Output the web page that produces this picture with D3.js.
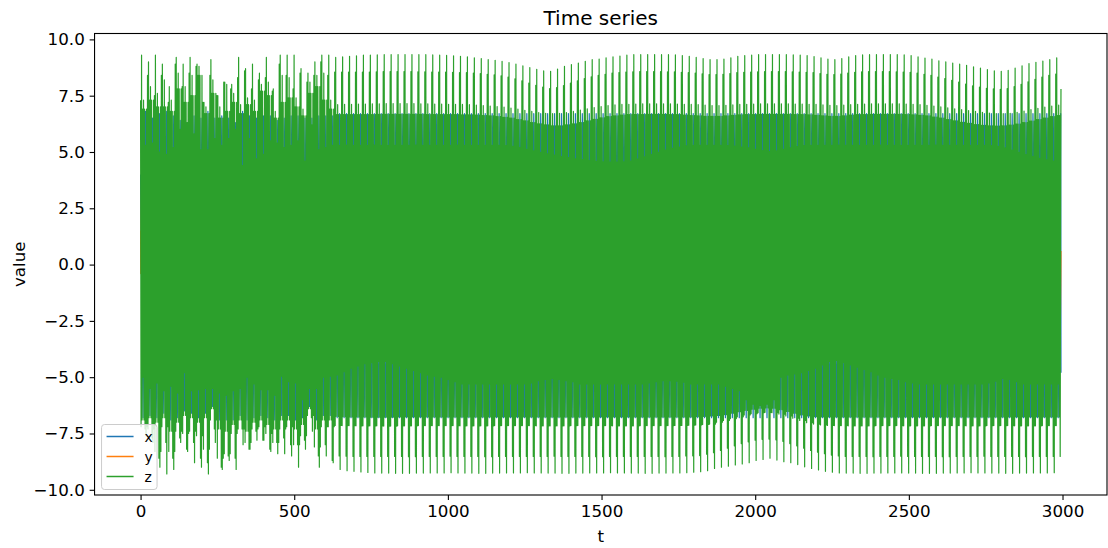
<!DOCTYPE html>
<html>
<head>
<meta charset="utf-8">
<script src="https://cdn.jsdelivr.net/npm/d3@7"></script>
<style>
  body { margin: 0; background: #fff; }
  text { font-family: "DejaVu Sans", sans-serif; }
</style>
</head>
<body>
<svg id="chart" width="1108" height="548"></svg>
<script>
// ---------------------------------------------------------------------------
// Data: three-variable oscillator, t in [0, 2995].
// The trace is stored per oscillation cycle: for every cycle the levels the
// fast oscillation reaches (tall spike, second spike, shoulder, body edge and
// the short notch) above and below zero. Cycles 0-27 are the irregular start,
// cycles 28-132 the regular regime.
// ---------------------------------------------------------------------------
const T_START = 0;
const T_END = 2995;
const CYCLE_T = 22.56;          // duration of one cycle
const seriesNames = ["x", "y", "z"];
const seriesColors = ["#1f77b4", "#ff7f0e", "#2ca02c"];
const xTicks = [0, 500, 1000, 1500, 2000, 2500, 3000];
const yTicks = [-10, -7.5, -5, -2.5, 0, 2.5, 5, 7.5, 10];

// z: upper levels per cycle
const zHiPeak = [
  9.3, 9.0, 9.3, 8.9, 7.9, 9.2, 8.9,
  9.2, 8.9, 7.2, 9.1, 7.5, 8.1, 8.0,
  9.2, 8.7, 8.9, 8.5, 9.2, 7.8, 9.3,
  9.3, 9.3, 8.7, 8.5, 9.0, 9.3, 9.3,
  9.20, 9.22, 9.25, 9.27, 9.30,
  9.30, 9.31, 9.32, 9.32, 9.33,
  9.33, 9.33, 9.32, 9.32, 9.31,
  9.30, 9.29, 9.27, 9.25, 9.22,
  9.18, 9.15, 9.10, 9.07, 9.02,
  8.97, 8.90, 8.82, 8.75, 8.67,
  8.60, 8.58, 8.68, 8.80, 8.88,
  8.95, 9.03, 9.10, 9.13, 9.18,
  9.22, 9.26, 9.30, 9.32, 9.32,
  9.33, 9.33, 9.32, 9.32, 9.31,
  9.28, 9.25, 9.20, 9.15, 9.10,
  9.10, 9.12, 9.18, 9.25, 9.28,
  9.30, 9.32, 9.33, 9.33, 9.33,
  9.32, 9.31, 9.30, 9.28, 9.24,
  9.18, 9.12, 9.10, 9.15, 9.22,
  9.28, 9.31, 9.32, 9.33, 9.33,
  9.33, 9.32, 9.31, 9.28, 9.22,
  9.17, 9.12, 9.05, 9.00, 8.95,
  8.90, 8.85, 8.78, 8.72, 8.66,
  8.60, 8.58, 8.62, 8.72, 8.83,
  8.93, 8.98, 9.04, 9.10, 9.18
];
const zHiSecond = [
  7.3, 8.4, 7.5, 8.4, 7.2, 8.9, 7.9,
  8.5, 8.8, 7.2, 8.4, 7.5, 8.1, 7.8,
  8.3, 8.6, 7.8, 8.2, 8.3, 7.7, 8.9,
  8.4, 7.8, 8.5, 8.1, 8.4, 9.0, 8.4,
  8.55, 8.55, 8.55, 8.55, 8.55,
  8.55, 8.56, 8.57, 8.57, 8.57,
  8.57, 8.57, 8.56, 8.56, 8.55,
  8.55, 8.55, 8.54, 8.53, 8.52,
  8.50, 8.48, 8.45, 8.42, 8.38,
  8.32, 8.25, 8.16, 8.06, 7.96,
  7.88, 7.82, 7.86, 7.95, 8.06,
  8.16, 8.26, 8.34, 8.40, 8.45,
  8.50, 8.53, 8.55, 8.56, 8.57,
  8.57, 8.57, 8.57, 8.56, 8.56,
  8.54, 8.52, 8.50, 8.47, 8.44,
  8.44, 8.45, 8.48, 8.52, 8.54,
  8.55, 8.56, 8.57, 8.57, 8.57,
  8.57, 8.56, 8.55, 8.54, 8.52,
  8.48, 8.45, 8.44, 8.46, 8.50,
  8.54, 8.56, 8.57, 8.57, 8.57,
  8.57, 8.56, 8.55, 8.54, 8.50,
  8.45, 8.40, 8.33, 8.26, 8.18,
  8.10, 8.02, 7.94, 7.88, 7.83,
  7.80, 7.78, 7.82, 7.90, 8.00,
  8.12, 8.22, 8.32, 8.40, 8.46
];
const zHiShoulder = [
  7.3, 7.9, 7.6, 8.2, 7.3, 8.5, 7.9,
  8.4, 8.8, 7.0, 8.2, 7.0, 8.0, 7.6,
  7.1, 7.4, 7.3, 8.0, 8.1, 6.8, 8.4,
  8.3, 7.4, 6.9, 8.1, 8.4, 8.5, 7.3,
  7.10, 7.12, 7.12, 7.13, 7.13,
  7.14, 7.14, 7.15, 7.15, 7.15,
  7.15, 7.15, 7.14, 7.14, 7.13,
  7.13, 7.12, 7.12, 7.11, 7.10,
  7.08, 7.06, 7.04, 7.02, 6.99,
  6.95, 6.90, 6.85, 6.80, 6.75,
  6.72, 6.70, 6.72, 6.75, 6.80,
  6.86, 6.92, 6.97, 7.02, 7.06,
  7.09, 7.11, 7.12, 7.13, 7.14,
  7.14, 7.14, 7.14, 7.14, 7.13,
  7.12, 7.11, 7.10, 7.08, 7.06,
  7.06, 7.07, 7.09, 7.11, 7.12,
  7.13, 7.14, 7.14, 7.14, 7.14,
  7.14, 7.13, 7.13, 7.12, 7.11,
  7.09, 7.07, 7.06, 7.08, 7.10,
  7.12, 7.13, 7.14, 7.14, 7.14,
  7.14, 7.14, 7.13, 7.12, 7.10,
  7.07, 7.04, 7.00, 6.96, 6.92,
  6.88, 6.84, 6.80, 6.76, 6.73,
  6.71, 6.70, 6.72, 6.76, 6.82,
  6.88, 6.94, 6.99, 7.04, 7.08
];
const zHiBody = [
  6.9, 7.3, 7.0, 7.0, 6.8, 7.8, 7.2,
  7.5, 8.4, 6.7, 7.6, 6.5, 6.8, 7.2,
  6.7, 7.1, 6.8, 7.7, 7.5, 6.5, 7.2,
  7.4, 7.0, 6.6, 7.6, 7.9, 7.3, 6.9,
  6.66, 6.66, 6.66, 6.66, 6.66,
  6.66, 6.67, 6.67, 6.67, 6.67,
  6.67, 6.67, 6.67, 6.66, 6.66,
  6.66, 6.66, 6.66, 6.65, 6.65,
  6.64, 6.62, 6.60, 6.57, 6.54,
  6.50, 6.44, 6.38, 6.31, 6.25,
  6.20, 6.16, 6.16, 6.20, 6.25,
  6.31, 6.38, 6.45, 6.52, 6.57,
  6.61, 6.64, 6.66, 6.66, 6.66,
  6.67, 6.67, 6.67, 6.66, 6.66,
  6.64, 6.62, 6.60, 6.58, 6.58,
  6.58, 6.60, 6.63, 6.65, 6.66,
  6.66, 6.67, 6.67, 6.67, 6.67,
  6.67, 6.66, 6.66, 6.65, 6.63,
  6.60, 6.58, 6.58, 6.61, 6.64,
  6.66, 6.66, 6.67, 6.67, 6.67,
  6.67, 6.67, 6.66, 6.65, 6.63,
  6.60, 6.55, 6.50, 6.44, 6.38,
  6.32, 6.27, 6.22, 6.18, 6.16,
  6.15, 6.16, 6.19, 6.24, 6.30,
  6.37, 6.44, 6.51, 6.57, 6.62
];
const zHiNotch = [
  5.3, 5.4, 5.0, 4.9, 5.2, 6.0, 6.3,
  5.8, 5.1, 5.1, 5.6, 5.3, 5.6, 6.0,
  4.4, 5.6, 4.7, 4.9, 5.5, 5.4, 5.2,
  5.3, 5.5, 4.6, 6.2, 5.1, 5.2, 5.3,
  5.30, 5.31, 5.30, 5.29, 5.30,
  5.31, 5.30, 5.30, 5.29, 5.30,
  5.30, 5.31, 5.30, 5.30, 5.29,
  5.30, 5.30, 5.31, 5.30, 5.30,
  5.30, 5.29, 5.30, 5.30, 5.28,
  5.25, 5.20, 5.12, 5.05, 4.98,
  4.92, 4.86, 4.80, 4.75, 4.70,
  4.66, 4.62, 4.58, 4.56, 4.55,
  4.55, 4.56, 4.60, 4.68, 4.78,
  4.88, 4.98, 5.08, 5.16, 5.22,
  5.27, 5.30, 5.30, 5.30, 5.30,
  5.30, 5.28, 5.26, 5.22, 5.18,
  5.12, 5.06, 5.02, 5.05, 5.12,
  5.18, 5.24, 5.28, 5.30, 5.30,
  5.30, 5.30, 5.31, 5.30, 5.30,
  5.29, 5.30, 5.30, 5.31, 5.30,
  5.30, 5.30, 5.29, 5.30, 5.30,
  5.30, 5.31, 5.30, 5.30, 5.30,
  5.29, 5.30, 5.30, 5.30, 5.28,
  5.25, 5.18, 5.08, 4.98, 4.88,
  4.80, 4.72, 4.65, 4.60, 4.56
];

// z: lower levels per cycle
const zLoPeak = [
  -7.6, -7.9, -9.0, -9.3, -9.1, -7.9, -8.3,
  -8.8, -9.0, -9.3, -7.9, -9.1, -8.7, -9.1,
  -8.0, -8.2, -7.8, -7.8, -8.3, -8.4, -8.4,
  -8.5, -9.0, -8.2, -7.4, -9.0, -8.5, -8.8,
  -9.10, -9.15, -9.18, -9.21, -9.23,
  -9.25, -9.26, -9.26, -9.27, -9.27,
  -9.27, -9.26, -9.26, -9.25, -9.25,
  -9.25, -9.24, -9.25, -9.26, -9.26,
  -9.27, -9.27, -9.26, -9.26, -9.25,
  -9.25, -9.25, -9.24, -9.25, -9.25,
  -9.26, -9.26, -9.27, -9.27, -9.26,
  -9.26, -9.25, -9.25, -9.25, -9.24,
  -9.25, -9.25, -9.26, -9.26, -9.27,
  -9.27, -9.26, -9.26, -9.25, -9.25,
  -9.24, -9.22, -9.20, -9.15, -9.05,
  -9.00, -8.95, -8.90, -8.85, -8.80,
  -8.70, -8.65, -8.60, -8.68, -8.75,
  -8.80, -8.88, -8.98, -9.05, -9.12,
  -9.18, -9.22, -9.25, -9.26, -9.26,
  -9.27, -9.27, -9.26, -9.26, -9.25,
  -9.25, -9.25, -9.26, -9.26, -9.27,
  -9.27, -9.27, -9.26, -9.26, -9.25,
  -9.25, -9.24, -9.25, -9.25, -9.26,
  -9.26, -9.27, -9.27, -9.26, -9.26,
  -9.25, -9.25, -9.25, -9.24, -9.25
];
const zLoSecond = [
  -7.3, -7.7, -8.6, -7.9, -8.6, -7.7, -8.2,
  -7.9, -8.6, -8.8, -7.3, -9.0, -8.5, -8.6,
  -7.3, -8.2, -7.4, -7.8, -8.2, -7.9, -7.7,
  -8.0, -8.0, -7.8, -6.8, -8.5, -8.0, -8.7,
  -8.50, -8.51, -8.52, -8.52, -8.52,
  -8.52, -8.52, -8.52, -8.52, -8.52,
  -8.53, -8.53, -8.52, -8.52, -8.52,
  -8.52, -8.51, -8.52, -8.52, -8.52,
  -8.52, -8.53, -8.53, -8.52, -8.52,
  -8.52, -8.52, -8.52, -8.52, -8.52,
  -8.52, -8.51, -8.52, -8.52, -8.52,
  -8.52, -8.52, -8.53, -8.53, -8.52,
  -8.52, -8.52, -8.52, -8.52, -8.52,
  -8.52, -8.52, -8.53, -8.52, -8.52,
  -8.50, -8.49, -8.48, -8.42, -8.35,
  -8.25, -8.15, -8.05, -7.95, -7.87,
  -7.80, -7.76, -7.75, -7.78, -7.85,
  -7.95, -8.05, -8.15, -8.25, -8.33,
  -8.40, -8.46, -8.50, -8.52, -8.52,
  -8.52, -8.52, -8.53, -8.52, -8.52,
  -8.52, -8.51, -8.52, -8.52, -8.52,
  -8.52, -8.52, -8.53, -8.53, -8.52,
  -8.52, -8.52, -8.52, -8.51, -8.52,
  -8.52, -8.52, -8.52, -8.52, -8.53,
  -8.52, -8.52, -8.52, -8.52, -8.52
];
const zLoShoulder = [
  -7.2, -7.3, -8.3, -7.2, -8.3, -7.4, -7.5,
  -7.4, -7.6, -8.2, -6.9, -8.6, -8.4, -7.5,
  -7.3, -7.9, -7.3, -7.2, -7.5, -7.9, -7.3,
  -7.2, -8.0, -7.6, -6.7, -8.1, -7.2, -7.2,
  -7.14, -7.15, -7.15, -7.16, -7.16,
  -7.16, -7.16, -7.17, -7.17, -7.16,
  -7.16, -7.16, -7.15, -7.15, -7.15,
  -7.15, -7.15, -7.15, -7.16, -7.16,
  -7.16, -7.16, -7.16, -7.15, -7.15,
  -7.15, -7.15, -7.15, -7.15, -7.16,
  -7.16, -7.16, -7.16, -7.16, -7.15,
  -7.15, -7.15, -7.15, -7.15, -7.15,
  -7.16, -7.16, -7.16, -7.16, -7.15,
  -7.15, -7.15, -7.15, -7.15, -7.14,
  -7.14, -7.13, -7.12, -7.10, -7.08,
  -7.00, -6.92, -6.84, -6.76, -6.68,
  -6.62, -6.58, -6.56, -6.58, -6.64,
  -6.72, -6.82, -6.92, -7.02, -7.08,
  -7.12, -7.14, -7.15, -7.15, -7.16,
  -7.16, -7.16, -7.16, -7.15, -7.15,
  -7.15, -7.15, -7.16, -7.16, -7.16,
  -7.16, -7.15, -7.15, -7.15, -7.15,
  -7.15, -7.16, -7.16, -7.16, -7.15,
  -7.15, -7.15, -7.15, -7.16, -7.16,
  -7.16, -7.16, -7.15, -7.15, -7.15
];
const zLoBody = [
  -6.9, -6.8, -7.0, -6.8, -7.4, -7.0, -6.7,
  -6.8, -7.0, -6.8, -6.4, -7.3, -7.4, -7.1,
  -6.9, -7.4, -7.0, -6.9, -7.1, -7.3, -6.9,
  -6.9, -7.3, -7.1, -6.4, -7.3, -6.9, -6.9,
  -6.74, -6.75, -6.76, -6.76, -6.76,
  -6.77, -6.77, -6.77, -6.77, -6.76,
  -6.76, -6.76, -6.76, -6.76, -6.76,
  -6.76, -6.76, -6.76, -6.76, -6.76,
  -6.76, -6.76, -6.76, -6.76, -6.76,
  -6.76, -6.76, -6.76, -6.76, -6.76,
  -6.76, -6.76, -6.76, -6.76, -6.76,
  -6.76, -6.76, -6.76, -6.76, -6.76,
  -6.76, -6.76, -6.76, -6.76, -6.76,
  -6.76, -6.76, -6.76, -6.76, -6.76,
  -6.76, -6.76, -6.75, -6.74, -6.72,
  -6.70, -6.66, -6.60, -6.53, -6.47,
  -6.42, -6.38, -6.36, -6.38, -6.44,
  -6.52, -6.60, -6.67, -6.72, -6.75,
  -6.76, -6.76, -6.76, -6.76, -6.76,
  -6.76, -6.76, -6.76, -6.76, -6.76,
  -6.76, -6.76, -6.76, -6.76, -6.76,
  -6.76, -6.76, -6.76, -6.76, -6.76,
  -6.76, -6.76, -6.76, -6.76, -6.76,
  -6.76, -6.76, -6.76, -6.76, -6.76,
  -6.76, -6.76, -6.76, -6.76, -6.76
];
const zLoNotch = [
  -5.0, -5.5, -5.25, -5.6, -5.4, -5.7, -4.8,
  -5.6, -5.55, -5.5, -5.5, -5.7, -5.8, -5.6,
  -5.5, -5.0, -5.3, -5.55, -5.55, -5.8, -4.95,
  -5.2, -5.25, -6.0, -5.5, -5.5, -5.0, -4.95,
  -4.90, -4.75, -4.60, -4.50, -4.40,
  -4.35, -4.30, -4.30, -4.40, -4.50,
  -4.60, -4.70, -4.80, -4.90, -4.95,
  -5.00, -5.10, -5.20, -5.30, -5.30,
  -5.30, -5.30, -5.30, -5.30, -5.30,
  -5.30, -5.30, -5.30, -5.25, -5.15,
  -5.10, -5.05, -5.10, -5.15, -5.20,
  -5.30, -5.30, -5.30, -5.30, -5.30,
  -5.30, -5.30, -5.30, -5.30, -5.30,
  -5.25, -5.20, -5.15, -5.15, -5.18,
  -5.22, -5.30, -5.30, -5.30, -5.30,
  -5.30, -5.40, -5.50, -5.60, -6.00,
  -6.20, -6.25, -6.20, -6.00, -5.00,
  -4.90, -4.85, -4.80, -4.70, -4.60,
  -4.45, -4.30, -4.25, -4.35, -4.45,
  -4.55, -4.65, -4.75, -4.90, -5.00,
  -5.05, -5.10, -5.20, -5.25, -5.30,
  -5.30, -5.30, -5.30, -5.30, -5.30,
  -5.30, -5.30, -5.30, -5.30, -5.25,
  -5.18, -5.05, -5.10, -5.20, -5.30,
  -5.30, -5.30, -5.30, -5.30, -5.30
];

// x: highest and lowest value reached in each cycle
const xHi = [
  6.8, 6.5, 6.7, 6.8, 6.6, 6.4, 6.3,
  6.6, 6.5, 6.8, 6.5, 6.6, 6.5, 6.3,
  6.8, 6.6, 6.5, 6.6, 6.6, 6.4, 6.5,
  6.6, 6.6, 6.5, 6.5, 6.6, 6.6, 6.6,
  6.7, 6.7, 6.7, 6.7, 6.7,  6.7, 6.7, 6.7, 6.7, 6.7,
  6.7, 6.7, 6.7, 6.7, 6.7,  6.7, 6.7, 6.7, 6.7, 6.7,
  6.7, 6.7, 6.7, 6.7, 6.7,  6.7, 6.7, 6.7, 6.7, 6.7,
  6.7, 6.7, 6.7, 6.7, 6.7,  6.7, 6.7, 6.7, 6.7, 6.7,
  6.7, 6.7, 6.7, 6.7, 6.7,  6.7, 6.7, 6.7, 6.7, 6.7,
  6.7, 6.7, 6.7, 6.7, 6.7,  6.7, 6.7, 6.7, 6.7, 6.7,
  6.7, 6.7, 6.7, 6.7, 6.7,  6.7, 6.7, 6.7, 6.7, 6.7,
  6.7, 6.7, 6.7, 6.7, 6.7,  6.7, 6.7, 6.7, 6.7, 6.7,
  6.7, 6.7, 6.7, 6.7, 6.7,  6.7, 6.7, 6.7, 6.7, 6.7,
  6.7, 6.7, 6.7, 6.7, 6.7,  6.7, 6.7, 6.7, 6.7, 6.7,
  6.7, 6.7, 6.7, 6.7, 6.7
];
const xLo = [
  -6.8, -6.7, -6.8, -6.6, -6.9, -6.8, -6.5,
  -6.6, -6.8, -6.6, -6.3, -6.9, -6.9, -6.9,
  -6.7, -6.9, -6.8, -6.7, -6.8, -6.9, -6.7,
  -6.7, -6.9, -6.8, -6.3, -6.9, -6.7, -6.7,
  -6.8, -6.8, -6.8, -6.8, -6.8,  -6.8, -6.8, -6.8, -6.8, -6.8,
  -6.8, -6.8, -6.8, -6.8, -6.8,  -6.8, -6.8, -6.8, -6.8, -6.8,
  -6.8, -6.8, -6.8, -6.8, -6.8,  -6.8, -6.8, -6.8, -6.8, -6.8,
  -6.8, -6.8, -6.8, -6.8, -6.8,  -6.8, -6.8, -6.8, -6.8, -6.8,
  -6.8, -6.8, -6.8, -6.8, -6.8,  -6.8, -6.8, -6.8, -6.8, -6.8,
  -6.8, -6.8, -6.8, -6.8, -6.8,  -6.8, -6.8, -6.8, -6.8, -6.8,
  -6.8, -6.8, -6.8, -6.8, -6.8,  -6.8, -6.8, -6.8, -6.8, -6.8,
  -6.8, -6.8, -6.8, -6.8, -6.8,  -6.8, -6.8, -6.8, -6.8, -6.8,
  -6.8, -6.8, -6.8, -6.8, -6.8,  -6.8, -6.8, -6.8, -6.8, -6.8,
  -6.8, -6.8, -6.8, -6.8, -6.8,  -6.8, -6.8, -6.8, -6.8, -6.8,
  -6.8, -6.8, -6.8, -6.8, -6.8
];
// y: highest and lowest value reached in each cycle
const yHi = [
  3.8, 3.8, 3.8, 3.8, 3.8, 3.8, 3.8,
  3.8, 3.8, 3.8, 3.8, 3.8, 3.8, 3.8,
  3.8, 3.8, 3.8, 3.8, 3.8, 3.8, 3.8,
  3.8, 3.8, 3.8, 3.8, 3.8, 3.8, 3.8,
  3.8, 3.8, 3.8, 3.8, 3.8,  3.8, 3.8, 3.8, 3.8, 3.8,
  3.8, 3.8, 3.8, 3.8, 3.8,  3.8, 3.8, 3.8, 3.8, 3.8,
  3.8, 3.8, 3.8, 3.8, 3.8,  3.8, 3.8, 3.8, 3.8, 3.8,
  3.8, 3.8, 3.8, 3.8, 3.8,  3.8, 3.8, 3.8, 3.8, 3.8,
  3.8, 3.8, 3.8, 3.8, 3.8,  3.8, 3.8, 3.8, 3.8, 3.8,
  3.8, 3.8, 3.8, 3.8, 3.8,  3.8, 3.8, 3.8, 3.8, 3.8,
  3.8, 3.8, 3.8, 3.8, 3.8,  3.8, 3.8, 3.8, 3.8, 3.8,
  3.8, 3.8, 3.8, 3.8, 3.8,  3.8, 3.8, 3.8, 3.8, 3.8,
  3.8, 3.8, 3.8, 3.8, 3.8,  3.8, 3.8, 3.8, 3.8, 3.8,
  3.8, 3.8, 3.8, 3.8, 3.8,  3.8, 3.8, 3.8, 3.8, 3.8,
  3.8, 3.8, 3.8, 3.8, 3.8
];
const yLo = [
  -3.6, -3.6, -3.6, -3.6, -3.6, -3.6, -3.6,
  -3.6, -3.6, -3.6, -3.6, -3.6, -3.6, -3.6,
  -3.6, -3.6, -3.6, -3.6, -3.6, -3.6, -3.6,
  -3.6, -3.6, -3.6, -3.6, -3.6, -3.6, -3.6,
  -3.6, -3.6, -3.6, -3.6, -3.6,  -3.6, -3.6, -3.6, -3.6, -3.6,
  -3.6, -3.6, -3.6, -3.6, -3.6,  -3.6, -3.6, -3.6, -3.6, -3.6,
  -3.6, -3.6, -3.6, -3.6, -3.6,  -3.6, -3.6, -3.6, -3.6, -3.6,
  -3.6, -3.6, -3.6, -3.6, -3.6,  -3.6, -3.6, -3.6, -3.6, -3.6,
  -3.6, -3.6, -3.6, -3.6, -3.6,  -3.6, -3.6, -3.6, -3.6, -3.6,
  -3.6, -3.6, -3.6, -3.6, -3.6,  -3.6, -3.6, -3.6, -3.6, -3.6,
  -3.6, -3.6, -3.6, -3.6, -3.6,  -3.6, -3.6, -3.6, -3.6, -3.6,
  -3.6, -3.6, -3.6, -3.6, -3.6,  -3.6, -3.6, -3.6, -3.6, -3.6,
  -3.6, -3.6, -3.6, -3.6, -3.6,  -3.6, -3.6, -3.6, -3.6, -3.6,
  -3.6, -3.6, -3.6, -3.6, -3.6,  -3.6, -3.6, -3.6, -3.6, -3.6,
  -3.6, -3.6, -3.6, -3.6, -3.6
];
// values at the first and last time step
const startValues = { x: [4.0], y: [1.5, -0.4] };
const endValues = { x: -4.8, y: 0.6, z: 7.8 };

// ---------------------------------------------------------------------------
// Layout
// ---------------------------------------------------------------------------
const W = 1108, H = 548;
const plot = { left: 94.55, right: 1107, top: 33.5, bottom: 495 };
const FONT_TICK = 16.7, FONT_LABEL = 16.7, FONT_TITLE = 20, FONT_LEGEND = 13.9;
const TICK_LEN = 4.9, TICK_PAD = 4.9;

// each cycle is split into seven columns; within a column the signal
// rises to an upper level and falls to a lower level
const COLS = 7;
const colT = CYCLE_T / COLS, halfT = colT / 2;
const zUpperByCol = [zHiSecond, zHiPeak, zHiBody, zHiShoulder, zHiBody, zHiNotch, zHiBody];
const zLowerByCol = [zLoShoulder, zLoBody, zLoNotch, zLoBody, zLoSecond, zLoPeak, zLoShoulder];

const nCycles = d3.min([zHiPeak, zHiSecond, zHiShoulder, zHiBody, zHiNotch,
  zLoPeak, zLoSecond, zLoShoulder, zLoBody, zLoNotch, xHi, xLo, yHi, yLo], a => a.length);

function buildZ() {
  const pts = [];
  for (let k = 0; k < nCycles; k++) {
    const t0 = T_START + k * CYCLE_T;
    for (let c = 0; c < COLS; c++) {
      const ta = t0 + c * colT, tb = ta + halfT;
      if (ta < T_END) pts.push([ta, zUpperByCol[c][k]]);
      if (tb < T_END) pts.push([tb, zLowerByCol[c][k]]);
    }
  }
  pts.push([T_END, endValues.z]);
  return pts;
}
function buildX() {
  const pts = [[T_START, startValues.x[0]]];
  for (let k = 0; k < nCycles; k++) {
    const t0 = T_START + k * CYCLE_T;
    const tLo = t0 + 2 * colT + halfT, tHi = t0 + 5 * colT;
    if (tLo < T_END) pts.push([tLo, xLo[k]]);
    if (tHi < T_END) pts.push([tHi, xHi[k]]);
  }
  pts.push([T_END, endValues.x]);
  return pts;
}
function buildY() {
  const pts = [[T_START, startValues.y[0]], [T_START + 0.6, startValues.y[1]]];
  for (let k = 0; k < nCycles; k++) {
    const t0 = T_START + k * CYCLE_T;
    const tHi = t0 + colT, tLo = t0 + 4 * colT + halfT;
    if (tHi < T_END) pts.push([tHi, yHi[k]]);
    if (tLo < T_END) pts.push([tLo, yLo[k]]);
  }
  pts.push([T_END, endValues.y]);
  return pts;
}

const series = [
  { name: seriesNames[0], color: seriesColors[0], points: buildX() },
  { name: seriesNames[1], color: seriesColors[1], points: buildY() },
  { name: seriesNames[2], color: seriesColors[2], points: buildZ() }
];

// ---------------------------------------------------------------------------
// Scales (5 % margins on both axes)
// ---------------------------------------------------------------------------
const tPad = 0.05 * (T_END - T_START);
const x = d3.scaleLinear()
  .domain([T_START - tPad, T_END + tPad])
  .range([plot.left, plot.right]);

const allV = series.flatMap(s => s.points.map(p => p[1]));
const [vMin, vMax] = d3.extent(allV);
const vPad = 0.05 * (vMax - vMin);
const y = d3.scaleLinear()
  .domain([vMin - vPad, vMax + vPad])
  .range([plot.bottom, plot.top]);

// ---------------------------------------------------------------------------
// Drawing
// ---------------------------------------------------------------------------
const svg = d3.select("#chart");
svg.append("rect").attr("width", W).attr("height", H).attr("fill", "#fff");

svg.append("defs").append("clipPath").attr("id", "plotClip")
  .append("rect")
  .attr("x", plot.left).attr("y", plot.top)
  .attr("width", plot.right - plot.left).attr("height", plot.bottom - plot.top);

const line = d3.line().x(d => x(d[0])).y(d => y(d[1]));

svg.append("g").attr("clip-path", "url(#plotClip)")
  .selectAll("path").data(series).join("path")
  .attr("d", d => line(d.points))
  .attr("fill", "none")
  .attr("stroke", d => d.color)
  .attr("stroke-width", 1.2)
  .attr("stroke-linejoin", "round");

// axes
function styleAxis(g) {
  g.attr("font-size", null).attr("font-family", null);
  g.select(".domain").remove();
  g.selectAll(".tick line").attr("stroke", "#000").attr("stroke-width", 1.1);
  g.selectAll(".tick text").attr("fill", "#000").style("font-size", FONT_TICK + "px");
}
svg.append("g")
  .attr("transform", `translate(0,${plot.bottom})`)
  .call(d3.axisBottom(x).tickValues(xTicks).tickSize(TICK_LEN).tickPadding(TICK_PAD)
    .tickFormat(d3.format("d")))
  .call(styleAxis);
svg.append("g")
  .attr("transform", `translate(${plot.left},0)`)
  .call(d3.axisLeft(y).tickValues(yTicks).tickSize(TICK_LEN).tickPadding(TICK_PAD)
    .tickFormat(d3.format(".1f")))
  .call(styleAxis);

// frame
svg.append("rect")
  .attr("x", plot.left).attr("y", plot.top)
  .attr("width", plot.right - plot.left).attr("height", plot.bottom - plot.top)
  .attr("fill", "none").attr("stroke", "#000").attr("stroke-width", 1.1);

// title and axis labels
const cx = (plot.left + plot.right) / 2;
svg.append("text").attr("x", cx).attr("y", 25.2)
  .attr("text-anchor", "middle").style("font-size", FONT_TITLE + "px").text("Time series");
svg.append("text").attr("x", cx).attr("y", 541.5)
  .attr("text-anchor", "middle").style("font-size", FONT_LABEL + "px").text("t");
svg.append("text")
  .attr("transform", `translate(24.5,${(plot.top + plot.bottom) / 2}) rotate(-90)`)
  .attr("text-anchor", "middle").style("font-size", FONT_LABEL + "px").text("value");

// legend (lower left)
const lg = svg.append("g").attr("transform", `translate(${plot.left + 7},${plot.bottom - 70.5})`);
lg.append("rect")
  .attr("x", 0).attr("y", 0).attr("width", 55.5).attr("height", 65)
  .attr("rx", 3).attr("ry", 3)
  .attr("fill", "#fff").attr("fill-opacity", 0.8)
  .attr("stroke", "#cccccc").attr("stroke-width", 1);
const rows = lg.selectAll("g.row").data(series).join("g")
  .attr("class", "row")
  .attr("transform", (d, i) => `translate(0,${12 + i * 20})`);
rows.append("line")
  .attr("x1", 5).attr("x2", 32)
  .attr("stroke", d => d.color).attr("stroke-width", 1.5);
rows.append("text")
  .attr("x", 43).attr("y", 5)
  .style("font-size", FONT_LEGEND + "px")
  .text(d => d.name);
</script>
</body>
</html>
